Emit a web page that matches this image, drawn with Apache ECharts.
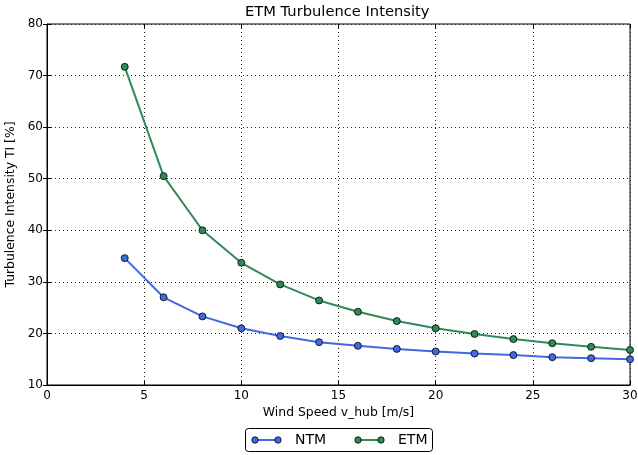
<!DOCTYPE html>
<html>
<head>
<meta charset="utf-8">
<script src="https://cdn.jsdelivr.net/npm/echarts@6/dist/echarts.min.js"></script>
<style>
  html, body { margin: 0; padding: 0; background: #fff; }
  #chart { width: 638px; height: 455px; }
</style>
</head>
<body>
<div id="chart"></div>
<script>
// Wind speeds at hub height [m/s]
const windSpeed = [4, 6, 8, 10, 12, 14, 16, 18, 20, 22, 24, 26, 28, 30];
// Normal turbulence model, TI [%]
const ntmValues = [34.6, 27.0, 23.3, 21.0, 19.5, 18.3, 17.6, 17.0, 16.5, 16.1, 15.8, 15.4, 15.2, 15.0];
// Extreme turbulence model, TI [%]
const etmValues = [71.7, 50.5, 40.0, 33.7, 29.5, 26.4, 24.2, 22.4, 21.0, 19.9, 18.9, 18.1, 17.4, 16.8];
const seriesNames = ['NTM', 'ETM'];
const seriesColors = ['#4169e1', '#2e8b57'];

const FONT = 'DejaVu Sans';
const chart = echarts.init(document.getElementById('chart'), null, { renderer: 'canvas' });

const gridLine = { show: true, lineStyle: { color: '#222', type: [1, 3], width: 1 } };
const tick = { show: true, inside: true, length: 4, lineStyle: { color: '#000' } };

function pairs(vals) { return windSpeed.map((x, i) => [x, vals[i]]); }

function lineSeries(name, vals, color) {
  return {
    name, type: 'line', data: pairs(vals),
    symbol: 'circle', symbolSize: 7,
    lineStyle: { color, width: 2 },
    itemStyle: { color, borderColor: '#000', borderWidth: 0.8 },
    emphasis: { disabled: true },
    animation: false
  };
}

// legend box drawn below the plot: line + two markers + label per series
function legendItem(x, color, label) {
  return [
    { type: 'line', shape: { x1: x, y1: 440, x2: x + 23, y2: 440 }, style: { stroke: color, lineWidth: 2 } },
    { type: 'circle', shape: { cx: x, cy: 440, r: 3.2 }, style: { fill: color, stroke: '#000', lineWidth: 0.8 } },
    { type: 'circle', shape: { cx: x + 23, cy: 440, r: 3.2 }, style: { fill: color, stroke: '#000', lineWidth: 0.8 } },
    { type: 'text', x: x + 40, y: 440, style: { text: label, font: '14px "' + FONT + '"', fill: '#000', verticalAlign: 'middle', align: 'left' } }
  ];
}

chart.setOption({
  backgroundColor: '#fff',
  title: {
    text: 'ETM Turbulence Intensity',
    left: 245, top: 5, padding: 0,
    textStyle: { fontFamily: FONT, fontSize: 14.7, fontWeight: 'normal', color: '#000' }
  },
  grid: {
    left: 47, right: 8, top: 24, bottom: 70, containLabel: false, outerBoundsMode: 'none',
    show: true, borderColor: '#000', borderWidth: 1, backgroundColor: '#fff'
  },
  xAxis: [{
    type: 'value', min: 0, max: 30, interval: 5,
    name: 'Wind Speed v_hub [m/s]', nameLocation: 'middle', nameGap: 18,
    nameTextStyle: { fontFamily: FONT, fontSize: 12.4, color: '#000', verticalAlign: 'top' },
    axisLine: { show: true, lineStyle: { color: '#000' } },
    axisTick: tick,
    axisLabel: { fontFamily: FONT, fontSize: 12, color: '#000', margin: 5 },
    splitLine: gridLine
  }, {
    type: 'value', min: 0, max: 30, interval: 5, position: 'top',
    axisLine: { show: false }, axisTick: tick, axisLabel: { show: false }, splitLine: { show: false }
  }],
  yAxis: [{
    type: 'value', min: 10, max: 80, interval: 10,
    name: 'Turbulence Intensity TI [%]', nameLocation: 'middle', nameGap: 21,
    nameTextStyle: { fontFamily: FONT, fontSize: 12.4, color: '#000' },
    axisLine: { show: true, lineStyle: { color: '#000' } },
    axisTick: tick,
    axisLabel: { fontFamily: FONT, fontSize: 12, color: '#000', margin: 4 },
    splitLine: gridLine
  }, {
    type: 'value', min: 10, max: 80, interval: 10, position: 'right',
    axisLine: { show: false }, axisTick: tick, axisLabel: { show: false }, splitLine: { show: false }
  }],
  series: [
    lineSeries(seriesNames[0], ntmValues, seriesColors[0]),
    lineSeries(seriesNames[1], etmValues, seriesColors[1])
  ],
  graphic: [
    { type: 'rect', shape: { x: 245.5, y: 428.5, width: 187, height: 23, r: 3 }, style: { fill: '#fff', stroke: '#000', lineWidth: 1 } },
    ...legendItem(255, seriesColors[0], seriesNames[0]),
    ...legendItem(358, seriesColors[1], seriesNames[1])
  ]
});
</script>
</body>
</html>
